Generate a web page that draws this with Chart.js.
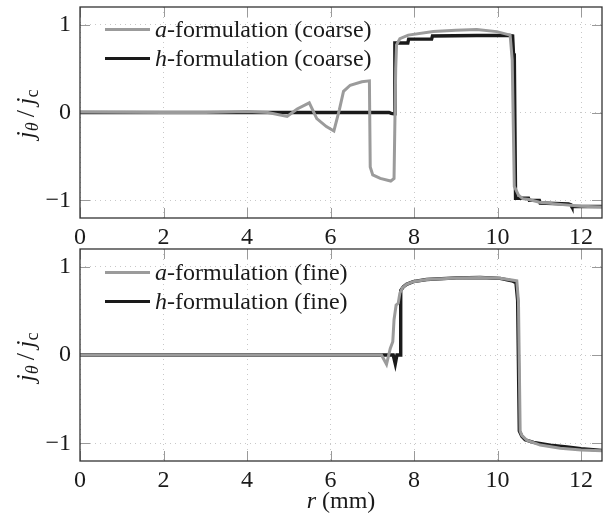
<!DOCTYPE html>
<html>
<head>
<meta charset="utf-8">
<script src="https://cdn.jsdelivr.net/npm/chart.js@4.4.1/dist/chart.umd.min.js"></script>
<style>
  body { margin: 0; background: #fff; }
  #wrap { position: relative; width: 611px; height: 516px; font-family: "Liberation Serif", "DejaVu Serif", serif; color: #1a1a1a; }
  .box { position: absolute; left: 0; width: 611px; }
  .ytitle { position: absolute; left: 27px; transform: translate(-50%, -50%) rotate(-90deg); font-size: 26px; white-space: nowrap; }
  .ytitle sub { font-size: 0.7em; vertical-align: -0.25em; }
  .xtitle { position: absolute; left: 341px; top: 500px; transform: translate(-50%, -50%); font-size: 24px; white-space: nowrap; }
  .legend { position: absolute; left: 105px; font-size: 24px; }
  .legend div { display: flex; align-items: center; height: 29px; white-space: nowrap; }
  .legend span.line { display: inline-block; width: 45px; height: 3px; margin-right: 5px; }
</style>
</head>
<body>
<div id="wrap">
  <div class="box" style="top:0;height:250px"><canvas id="topChart"></canvas></div>
  <div class="box" style="top:240px;height:276px"><canvas id="bottomChart"></canvas></div>

  <div class="ytitle" style="top:114px"><i>j</i><sub><i>θ</i></sub>&thinsp;/&thinsp;<i>j</i><sub>c</sub></div>
  <div class="ytitle" style="top:357px"><i>j</i><sub><i>θ</i></sub>&thinsp;/&thinsp;<i>j</i><sub>c</sub></div>
  <div class="xtitle"><i>r</i> (mm)</div>

  <div class="legend" style="top:15px">
    <div><span class="line" style="background:#9b9b9b"></span><span><i>a</i>-formulation (coarse)</span></div>
    <div><span class="line" style="background:#1a1a1a"></span><span><i>h</i>-formulation (coarse)</span></div>
  </div>
  <div class="legend" style="top:258px">
    <div><span class="line" style="background:#9b9b9b"></span><span><i>a</i>-formulation (fine)</span></div>
    <div><span class="line" style="background:#1a1a1a"></span><span><i>h</i>-formulation (fine)</span></div>
  </div>
</div>

<script>
// radius in mm, current density j_theta / j_c
const rCoarseA = [0, 1, 2, 3, 4, 4.5, 4.96, 5.2, 5.49, 5.67, 5.9, 6.08, 6.21, 6.31, 6.47, 6.75, 6.93, 6.95, 7.01, 7.19, 7.44, 7.52, 7.56, 7.58, 7.66, 7.86, 8.46, 9.0, 9.5, 9.98, 10.3, 10.35, 10.4, 10.5, 10.6, 10.75, 11.0, 11.5, 12.0, 12.5];
const jCoarseA = [0.005, 0.004, 0, 0, 0.01, 0, -0.045, 0.04, 0.11, -0.07, -0.16, -0.21, 0.03, 0.24, 0.31, 0.35, 0.36, -0.62, -0.71, -0.75, -0.78, -0.75, 0.5, 0.77, 0.84, 0.88, 0.92, 0.935, 0.945, 0.92, 0.88, 0.6, -0.84, -0.94, -0.98, -0.99, -1.02, -1.045, -1.065, -1.075];

const rCoarseH = [0, 7.4, 7.45, 7.52, 7.54, 7.85, 7.87, 8.42, 8.44, 9.5, 10.3, 10.36, 10.38, 10.4, 10.43, 10.74, 10.76, 11.0, 11.02, 11.7, 11.76, 11.78, 12.5];
const jCoarseH = [0, 0, -0.01, -0.015, 0.79, 0.79, 0.835, 0.835, 0.87, 0.875, 0.875, 0.87, 0.67, 0.66, -0.975, -0.975, -1.0, -1.0, -1.03, -1.04, -1.05, -1.07, -1.07];

const rFineA = [0, 7.22, 7.34, 7.43, 7.49, 7.52, 7.57, 7.62, 7.66, 7.72, 7.82, 7.98, 8.3, 9.02, 9.58, 10.06, 10.34, 10.46, 10.5, 10.54, 10.58, 10.7, 11.02, 11.5, 12.0, 12.5];
const jFineA = [0, 0, -0.105, 0.075, 0.15, 0.4, 0.565, 0.585, 0.7, 0.76, 0.8, 0.83, 0.855, 0.873, 0.878, 0.87, 0.85, 0.84, 0.6, -0.86, -0.91, -0.965, -1.02, -1.055, -1.075, -1.085];

const rFineH = [0, 7.5, 7.55, 7.59, 7.67, 7.68, 7.74, 7.82, 7.98, 8.3, 9.02, 9.58, 10.06, 10.34, 10.44, 10.48, 10.52, 10.58, 10.66, 10.86, 11.26, 11.66, 12.0, 12.5];
const jFineH = [0, 0, -0.1, 0, 0, 0.73, 0.77, 0.8, 0.83, 0.855, 0.873, 0.878, 0.867, 0.84, 0.82, 0.62, -0.86, -0.92, -0.96, -0.99, -1.02, -1.04, -1.06, -1.08];

const xTicksMax = 12.5;
const yLimits = [-1.2, 1.2];

const grey = '#9b9b9b';
const dark = '#1a1a1a';
const serif = '"Liberation Serif", "DejaVu Serif", serif';

function points(rs, js) {
  return rs.map((r, i) => ({ x: r, y: js[i] }));
}

// pgfplots-like box with inner tick marks
const frame = {
  id: 'frame',
  beforeDatasetsDraw(chart) {
    const { ctx, chartArea: a, scales: { x, y } } = chart;
    ctx.save();
    ctx.strokeStyle = '#9a9a9a';
    ctx.lineWidth = 1;
    ctx.beginPath();
    x.ticks.forEach(t => {
      const px = Math.round(x.getPixelForValue(t.value)) + 0.5;
      ctx.moveTo(px, a.bottom); ctx.lineTo(px, a.bottom - 10);
      ctx.moveTo(px, a.top); ctx.lineTo(px, a.top + 10);
    });
    y.ticks.forEach(t => {
      const py = Math.round(y.getPixelForValue(t.value)) + 0.5;
      ctx.moveTo(a.left, py); ctx.lineTo(a.left + 10, py);
      ctx.moveTo(a.right, py); ctx.lineTo(a.right - 10, py);
    });
    ctx.stroke();
    ctx.restore();
  },
  afterDraw(chart) {
    const { ctx, chartArea: a } = chart;
    ctx.save();
    ctx.strokeStyle = '#333';
    ctx.lineWidth = 1.3;
    ctx.strokeRect(a.left, a.top, a.right - a.left, a.bottom - a.top);
    ctx.restore();
  }
};

function makeChart(id, labelA, labelH, dataA, dataH, padTop, xAxisHeight) {
  return new Chart(document.getElementById(id).getContext('2d'), {
    type: 'line',
    data: {
      datasets: [
        { label: labelA, data: dataA, borderColor: grey, borderWidth: 3, pointRadius: 0, tension: 0 },
        { label: labelH, data: dataH, borderColor: dark, borderWidth: 3.4, pointRadius: 0, tension: 0 }
      ]
    },
    options: {
      responsive: true,
      maintainAspectRatio: false,
      animation: false,
      layout: { padding: { top: padTop, right: 9, left: 0, bottom: 0 } },
      plugins: { legend: { display: false }, tooltip: { enabled: false } },
      scales: {
        x: {
          type: 'linear', min: 0, max: xTicksMax,
          afterFit(s) { s.height = xAxisHeight; s.paddingLeft = 0; s.paddingRight = 0; },
          ticks: { stepSize: 2, includeBounds: false, padding: 5, color: dark, font: { family: serif, size: 24 } },
          grid: { color: '#c8c8c8', lineWidth: 1, drawTicks: false },
          border: { display: false, dash: [1, 4] }
        },
        y: {
          min: yLimits[0], max: yLimits[1],
          afterFit(s) { s.width = 80; s.paddingTop = 0; s.paddingBottom = 0; },
          ticks: {
            stepSize: 1, includeBounds: false, padding: 9, color: dark, font: { family: serif, size: 24 },
            callback: v => (v < 0 ? '\u2212' + Math.abs(v) : String(v))
          },
          grid: { color: '#c8c8c8', lineWidth: 1, drawTicks: false },
          border: { display: false, dash: [1, 4] }
        }
      }
    },
    plugins: [frame]
  });
}

makeChart('topChart', 'a-formulation (coarse)', 'h-formulation (coarse)',
  points(rCoarseA, jCoarseA), points(rCoarseH, jCoarseH), 7, 32);
makeChart('bottomChart', 'a-formulation (fine)', 'h-formulation (fine)',
  points(rFineA, jFineA), points(rFineH, jFineH), 9, 55);
</script>
</body>
</html>
